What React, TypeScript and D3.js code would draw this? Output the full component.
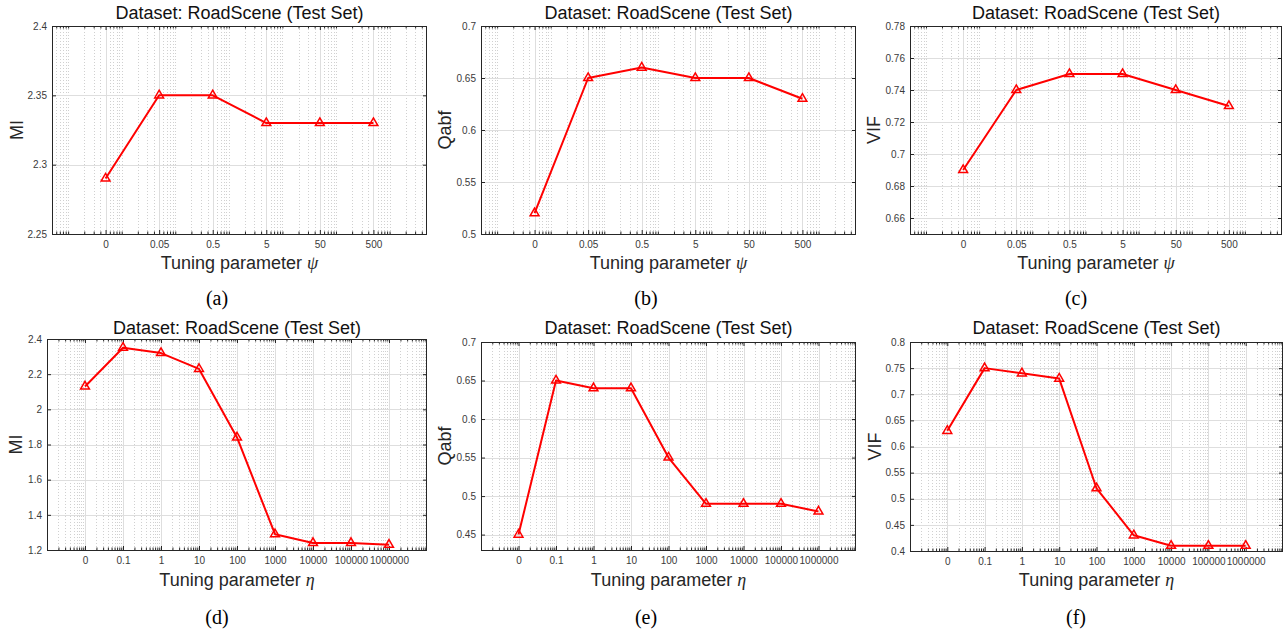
import React, { useEffect, useRef } from "react";
import * as d3 from "d3";

// x positions (log axis) and the labels shown under them
const psiTicks = [0.005, 0.05, 0.5, 5, 50, 500];
const psiLabels = ["0", "0.05", "0.5", "5", "50", "500"];
const etaTicks = [0.01, 0.1, 1, 10, 100, 1000, 10000, 100000, 1000000];
const etaLabels = ["0", "0.1", "1", "10", "100", "1000", "10000", "100000", "1000000"];

// measured values
const miPsi = [2.29, 2.35, 2.35, 2.33, 2.33, 2.33];
const qabfPsi = [0.52, 0.65, 0.66, 0.65, 0.65, 0.63];
const vifPsi = [0.69, 0.74, 0.75, 0.75, 0.74, 0.73];
const miEta = [2.13, 2.35, 2.32, 2.23, 1.84, 1.29, 1.24, 1.24, 1.23];
const qabfEta = [0.45, 0.65, 0.64, 0.64, 0.55, 0.49, 0.49, 0.49, 0.48];
const vifEta = [0.63, 0.75, 0.74, 0.73, 0.52, 0.43, 0.41, 0.41, 0.41];

// y ticks
const miPsiTicks = [2.25, 2.3, 2.35, 2.4];
const qabfPsiTicks = [0.5, 0.55, 0.6, 0.65, 0.7];
const vifPsiTicks = [0.66, 0.68, 0.7, 0.72, 0.74, 0.76, 0.78];
const miEtaTicks = [1.2, 1.4, 1.6, 1.8, 2, 2.2, 2.4];
const qabfEtaTicks = [0.45, 0.5, 0.55, 0.6, 0.65, 0.7];
const vifEtaTicks = [0.4, 0.45, 0.5, 0.55, 0.6, 0.65, 0.7, 0.75, 0.8];

const title = "Dataset: RoadScene (Test Set)";
const FONT = "'Liberation Sans', Arial, Helvetica, sans-serif";
const SERIF = "'Liberation Serif', 'Times New Roman', serif";

const rows = [
  { titleY: 19, xLabelY: 269, captionY: 305, sym: "\u03C8" },
  { titleY: 334, xLabelY: 586, captionY: 624, sym: "\u03B7" },
];
const captionX = [217, 646, 1076];

const panels = [
  { cap: "(a)", row: 0, col: 0, yLabel: "MI", xTicks: psiTicks, xLabels: psiLabels, xDomain: [5e-4, 5e3], values: miPsi, yTicks: miPsiTicks, yDomain: [2.25, 2.4], box: [52, 427, 26, 234], yLabelX: 17 },
  { cap: "(b)", row: 0, col: 1, yLabel: "Qabf", xTicks: psiTicks, xLabels: psiLabels, xDomain: [5e-4, 5e3], values: qabfPsi, yTicks: qabfPsiTicks, yDomain: [0.5, 0.7], box: [481, 856, 26, 234], yLabelX: 445 },
  { cap: "(c)", row: 0, col: 2, yLabel: "VIF", xTicks: psiTicks, xLabels: psiLabels, xDomain: [5e-4, 5e3], values: vifPsi, yTicks: vifPsiTicks, yDomain: [0.65, 0.78], box: [910, 1282, 26, 234], yLabelX: 874 },
  { cap: "(d)", row: 1, col: 0, yLabel: "MI", xTicks: etaTicks, xLabels: etaLabels, xDomain: [1e-3, 1e7], values: miEta, yTicks: miEtaTicks, yDomain: [1.2, 2.4], box: [47, 427, 339, 550], yLabelX: 16 },
  { cap: "(e)", row: 1, col: 1, yLabel: "Qabf", xTicks: etaTicks, xLabels: etaLabels, xDomain: [1e-3, 1e7], values: qabfEta, yTicks: qabfEtaTicks, yDomain: [0.43, 0.7], box: [481, 856, 342, 550], yLabelX: 445 },
  { cap: "(f)", row: 1, col: 2, yLabel: "VIF", xTicks: etaTicks, xLabels: etaLabels, xDomain: [1e-3, 1e7], values: vifEta, yTicks: vifEtaTicks, yDomain: [0.4, 0.8], box: [910, 1283, 342, 551], yLabelX: 875 },
];

// integer multiples of each decade inside the domain (matlab log minor grid)
function minorValues(domain: number[], majors: number[]) {
  const out: number[] = [];
  for (let k = -5; k <= 9; k++) {
    for (let m = 1; m <= 9; m++) {
      const v = m * Math.pow(10, k);
      if (v <= domain[0] * 1.0001 || v >= domain[1] * 0.9999) continue;
      if (majors.some(t => Math.abs(t - v) / t < 1e-6)) continue;
      out.push(v);
    }
  }
  return out;
}

function styleAxis(sel: any) {
  sel.select(".domain").remove();
  sel.selectAll("line").attr("stroke", "#262626");
  sel.selectAll("text").attr("font-family", FONT).attr("font-size", 10).attr("fill", "#3a3a3a");
}

function drawPanel(svg: any, p: any) {
  const [l, r, t, b] = p.box;
  const row = rows[p.row];
  const x = d3.scaleLog().domain(p.xDomain).range([l, r]);
  const y = d3.scaleLinear().domain(p.yDomain).range([b, t]);
  const minor = minorValues(p.xDomain, p.xTicks);
  const g = svg.append("g");
  const px = (v: number) => Math.round(v) + 0.5;

  // grid
  g.append("g").selectAll("line").data(minor).join("line")
    .attr("x1", (d: number) => px(x(d))).attr("x2", (d: number) => px(x(d)))
    .attr("y1", t).attr("y2", b)
    .attr("stroke", "#d0d0d0").attr("stroke-dasharray", "1,2");
  g.append("g").selectAll("line").data(p.xTicks).join("line")
    .attr("x1", (d: number) => px(x(d))).attr("x2", (d: number) => px(x(d)))
    .attr("y1", t).attr("y2", b)
    .attr("stroke", "#dedede");
  g.append("g").selectAll("line").data(p.yTicks).join("line")
    .attr("y1", (d: number) => px(y(d))).attr("y2", (d: number) => px(y(d)))
    .attr("x1", l).attr("x2", r)
    .attr("stroke", "#dedede");

  // axes, ticks pointing inward
  const fmt = (_: any, i: number) => p.xLabels[i];
  g.append("g").attr("transform", `translate(0,${b})`)
    .call(d3.axisBottom(x).tickValues(minor).tickFormat(() => "").tickSize(-2.5)).call(styleAxis);
  g.append("g").attr("transform", `translate(0,${t})`)
    .call(d3.axisTop(x).tickValues(minor).tickFormat(() => "").tickSize(-2.5)).call(styleAxis);
  g.append("g").attr("transform", `translate(0,${b})`)
    .call(d3.axisBottom(x).tickValues(p.xTicks).tickFormat(fmt).tickSize(-4).tickPadding(7)).call(styleAxis);
  g.append("g").attr("transform", `translate(0,${t})`)
    .call(d3.axisTop(x).tickValues(p.xTicks).tickFormat(() => "").tickSize(-4)).call(styleAxis);
  g.append("g").attr("transform", `translate(${l},0)`)
    .call(d3.axisLeft(y).tickValues(p.yTicks).tickFormat((d: any) => String(d)).tickSize(-4).tickPadding(5)).call(styleAxis);
  g.append("g").attr("transform", `translate(${r},0)`)
    .call(d3.axisRight(y).tickValues(p.yTicks).tickFormat(() => "").tickSize(-4)).call(styleAxis);

  g.append("rect")
    .attr("x", l + 0.5).attr("y", t + 0.5)
    .attr("width", r - l - 1).attr("height", b - t)
    .attr("fill", "none").attr("stroke", "#262626").attr("stroke-width", 1);

  // data
  const pts = p.values.map((v: number, i: number) => [p.xTicks[i], v]);
  const line = d3.line<number[]>().x(d => x(d[0])).y(d => y(d[1]));
  g.append("path").datum(pts).attr("d", line)
    .attr("fill", "none").attr("stroke", "#ff0000").attr("stroke-width", 2).attr("stroke-linejoin", "round");
  g.append("g").selectAll("path").data(pts).join("path")
    .attr("transform", (d: number[]) => `translate(${x(d[0])},${y(d[1])})`)
    .attr("d", d3.symbol(d3.symbolTriangle, 34)())
    .attr("fill", "none").attr("stroke", "#ff0000").attr("stroke-width", 1.5);

  // texts
  const cx = (l + r) / 2;
  g.append("text").attr("x", cx).attr("y", row.titleY).attr("text-anchor", "middle")
    .attr("font-family", FONT).attr("font-size", 18).attr("fill", "#111").text(title);
  const xl = g.append("text").attr("x", cx).attr("y", row.xLabelY).attr("text-anchor", "middle")
    .attr("font-family", FONT).attr("font-size", 18).attr("fill", "#262626");
  xl.append("tspan").text("Tuning parameter ");
  xl.append("tspan").attr("font-family", SERIF).attr("font-style", "italic").text(row.sym);
  g.append("text")
    .attr("transform", `translate(${p.yLabelX},${(t + b) / 2}) rotate(-90)`)
    .attr("text-anchor", "middle").attr("dominant-baseline", "central")
    .attr("font-family", FONT).attr("font-size", 18).attr("fill", "#262626").text(p.yLabel);
  g.append("text").attr("x", captionX[p.col]).attr("y", row.captionY).attr("text-anchor", "middle")
    .attr("font-family", SERIF).attr("font-size", 20).attr("fill", "#000").text(p.cap);
}

export default function App() {
  const ref = useRef<SVGSVGElement>(null);
  useEffect(() => {
    const svg = d3.select(ref.current);
    svg.selectAll("*").remove();
    panels.forEach(p => drawPanel(svg, p));
  }, []);
  return (
    <svg ref={ref} width={1283} height={632}
      style={{ position: "absolute", left: 0, top: 0, background: "#fff" }} />
  );
}
